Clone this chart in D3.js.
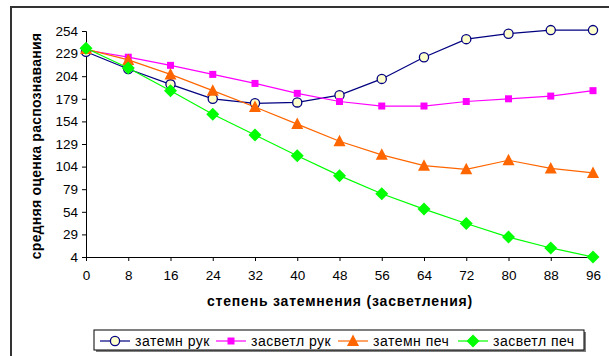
<!DOCTYPE html>
<html>
<head>
<meta charset="utf-8">
<script src="https://cdn.jsdelivr.net/npm/d3@7"></script>
<style>
  html, body { margin: 0; padding: 0; background: #fff; }
  svg { display: block; font-family: "Liberation Sans", Arial, sans-serif; }
</style>
</head>
<body>
<svg id="chart" width="609" height="356"></svg>
<script>
// Degree of darkening / lightening (x) and mean recognition score per series
const degrees = [0, 8, 16, 24, 32, 40, 48, 56, 64, 72, 80, 88, 96];
const darkHand   = [231, 212, 195, 179, 174, 175, 183, 201, 225, 245, 251, 255, 255];
const lightHand  = [233, 225, 216, 206, 196, 185, 176, 171, 171, 176, 179, 182, 188];
const darkPrint  = [234, 222, 206, 188, 170, 151, 132, 117, 105, 101, 111, 102, 97];
const lightPrint = [235, 213, 188, 162, 139, 116, 94, 74, 57, 41, 26, 14, 4];
const seriesNames = ["затемн рук", "засветл рук", "затемн печ", "засветл печ"];
const yTicks = [4, 29, 54, 79, 104, 129, 154, 179, 204, 229, 254];
const xTicks = degrees;

const svg = d3.select("#chart");

// outer chart frame (extends past the right and bottom edges)
svg.append("rect")
  .attr("x", 11).attr("y", 7)
  .attr("width", 620).attr("height", 380)
  .attr("fill", "#fff").attr("stroke", "#333").attr("stroke-width", 2);

const x = d3.scaleLinear().domain([0, 96]).range([86, 593]);
const y = d3.scaleLinear().domain([4, 254]).range([257, 31]);

const yAxis = svg.append("g")
  .attr("transform", `translate(${x(0)},0)`)
  .call(d3.axisLeft(y).tickValues(yTicks).tickSize(4).tickPadding(4).tickFormat(d3.format("d")));
const xAxis = svg.append("g")
  .attr("transform", `translate(0,${y(4)})`)
  .call(d3.axisBottom(x).tickValues(xTicks).tickSize(4).tickPadding(9).tickFormat(d3.format("d")));

[yAxis, xAxis].forEach(a => {
  a.select(".domain").attr("stroke", "#000").attr("stroke-width", 1);
  a.selectAll(".tick line").attr("stroke", "#000");
  a.selectAll("text").attr("font-size", 13.5).attr("fill", "#000")
    .attr("font-family", "'Liberation Sans', Arial, sans-serif");
});

// axis titles
svg.append("text")
  .attr("transform", `translate(41,${(y(4) + y(254)) / 2 + 2}) rotate(-90)`)
  .attr("text-anchor", "middle")
  .attr("font-size", 14).attr("font-weight", "bold").attr("letter-spacing", 0.25)
  .text("средняя оценка распознавания");
svg.append("text")
  .attr("x", 340).attr("y", 306)
  .attr("text-anchor", "middle")
  .attr("font-size", 14).attr("font-weight", "bold").attr("letter-spacing", 0.8)
  .text("степень затемнения (засветления)");

// marker drawers
const markers = {
  circle: (g, cx, cy, s) => g.append("circle").attr("cx", cx).attr("cy", cy).attr("r", 4.6)
    .attr("fill", "#ffffcc").attr("stroke", s.color).attr("stroke-width", 1.3),
  square: (g, cx, cy, s) => g.append("rect").attr("x", cx - 3.5).attr("y", cy - 3.5)
    .attr("width", 7).attr("height", 7).attr("fill", s.color),
  triangle: (g, cx, cy, s) => g.append("path")
    .attr("d", `M${cx},${cy - 6.5}L${cx + 6},${cy + 5}L${cx - 6},${cy + 5}Z`).attr("fill", s.color),
  diamond: (g, cx, cy, s) => g.append("path")
    .attr("d", `M${cx},${cy - 6.5}L${cx + 6.5},${cy}L${cx},${cy + 6.5}L${cx - 6.5},${cy}Z`).attr("fill", s.color)
};

const series = [
  { name: seriesNames[0], values: darkHand,   color: "#000080", marker: "circle" },
  { name: seriesNames[1], values: lightHand,  color: "#ff00ff", marker: "square" },
  { name: seriesNames[2], values: darkPrint,  color: "#ff6600", marker: "triangle" },
  { name: seriesNames[3], values: lightPrint, color: "#00ff00", marker: "diamond" }
];

const line = d3.line().x((d, i) => x(degrees[i])).y(d => y(d));

series.forEach(s => {
  const g = svg.append("g");
  g.append("path").datum(s.values).attr("d", line)
    .attr("fill", "none").attr("stroke", s.color).attr("stroke-width", 1.2);
  s.values.forEach((v, i) => markers[s.marker](g, x(degrees[i]), y(v), s));
});

// legend
const legend = svg.append("g");
legend.append("rect").attr("x", 96).attr("y", 332).attr("width", 490).attr("height", 20)
  .attr("fill", "#808080");
legend.append("rect").attr("x", 94).attr("y", 330).attr("width", 490).attr("height", 20)
  .attr("fill", "#fff").attr("stroke", "#000").attr("stroke-width", 1);
const legendX = [100, 216, 338, 458];
series.forEach((s, i) => {
  const lx = legendX[i], ly = 341;
  legend.append("line").attr("x1", lx).attr("x2", lx + 30).attr("y1", ly).attr("y2", ly)
    .attr("stroke", s.color).attr("stroke-width", 1.2);
  markers[s.marker](legend, lx + 15, ly, s);
  legend.append("text").attr("x", lx + 35).attr("y", ly + 5)
    .attr("font-size", 14).attr("letter-spacing", 0.5).text(s.name);
});
</script>
</body>
</html>
